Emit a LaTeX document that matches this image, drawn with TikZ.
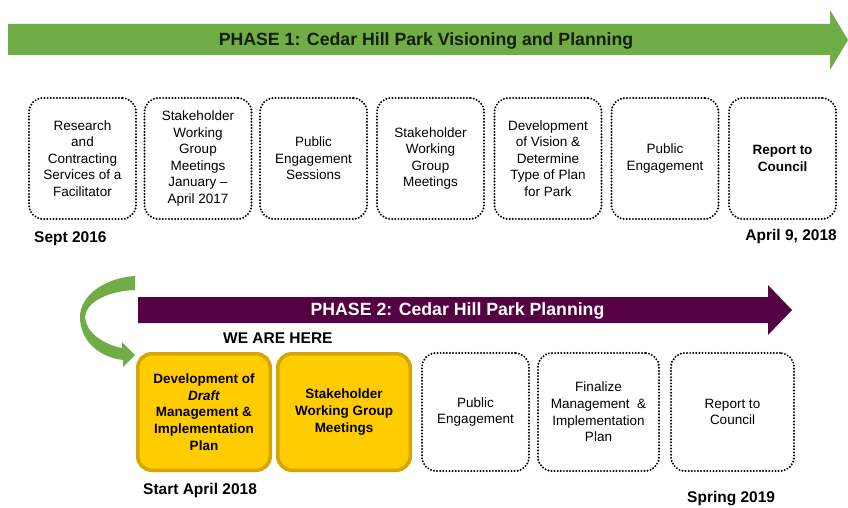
\documentclass[tikz,border=0pt]{standalone}
\usepackage{fontspec}
\setmainfont{Liberation Sans}
\definecolor{pgreen}{RGB}{112,173,71}
\definecolor{ppurple}{RGB}{84,0,66}
\definecolor{gold}{RGB}{255,204,0}
\definecolor{goldedge}{RGB}{214,165,0}
\begin{document}
\begin{tikzpicture}[x=1pt,y=-1pt,
  stage/.style={draw=black, line width=2.2pt, dash pattern=on 0pt off 3.1pt, line cap=round,
    rounded corners=14pt, minimum width=107pt, minimum height=121pt, align=center,
    inner sep=0pt, font=\fontsize{13.5}{16.6}\selectfont},
  ybox/.style={draw=goldedge, line width=3.5pt, fill=gold, rounded corners=14pt,
    minimum width=132.5pt, minimum height=116.5pt, align=center, inner sep=0pt,
    font=\fontsize{13.5}{16.6}\selectfont\bfseries},
  title/.style={font=\fontsize{17.7}{20}\selectfont\bfseries, inner sep=0pt},
  datelbl/.style={font=\fontsize{15.5}{18}\selectfont\bfseries, inner sep=0pt}]
\useasboundingbox (0,0) rectangle (848,508);
% Phase 1 arrow
\fill[pgreen] (8,24) -- (830,24) -- (830,10) -- (848,40) -- (830,70) -- (830,55) -- (8,55) -- cycle;
\node[title, text={rgb,255:red,20;green,30;blue,10}] (t1) at (426,41) {PHASE 1: Cedar Hill Park Visioning and Planning};
% Phase 1 boxes
\node[stage] (a1) at (82.5,158.5) {Research\\and\\Contracting\\Services of a\\Facilitator};
\node[stage] (a2) at (198,158.5) {Stakeholder\\Working\\Group\\Meetings\\January –\\April 2017};
\node[stage] (a3) at (313.5,158.5) {Public\\Engagement\\Sessions};
\node[stage] (a4) at (430.5,158.5) {Stakeholder\\Working\\Group\\Meetings};
\node[stage] (a5) at (548,158.5) {Development\\of Vision \&\\Determine\\Type of Plan\\for Park};
\node[stage] (a6) at (665,158.5) {Public\\Engagement};
\node[stage] (a7) at (782.5,158.5) {\bfseries Report to\\\bfseries Council};
\node[datelbl, anchor=west] (d1) at (34,239) {Sept 2016};
\node[datelbl, anchor=east] (d2) at (837,236) {April 9, 2018};
% curved green arrow
\fill[pgreen] (135,276) -- (135,290) .. controls (108,291) and (86,302) .. (85,317)
  .. controls (86,332) and (102,344) .. (122,348) -- (122,342) -- (135,355) -- (123,367)
  -- (123,360) .. controls (98,357) and (80,340) .. (80,317)
  .. controls (80,296) and (104,278) .. (135,276) -- cycle;
% Phase 2 arrow
\fill[ppurple] (138,297) -- (768,297) -- (768,285) -- (792,310) -- (768,335) -- (768,323) -- (138,323) -- cycle;
\node[title, text=white] (t2) at (457.5,310.5) {PHASE 2: Cedar Hill Park Planning};
\node[datelbl, anchor=west] (here) at (223,338.5) {WE ARE HERE};
% Phase 2 boxes
\node[ybox] (b1) at (204,412) {Development of\\\textit{Draft}\\Management \&\\Implementation\\Plan};
\node[ybox] (b2) at (344,412) {Stakeholder\\Working Group\\Meetings};
\node[stage, minimum height=118pt] (b3) at (475.5,412) {Public\\Engagement};
\node[stage, minimum height=118pt, minimum width=121pt] (b4) at (598.5,412) {Finalize\\Management~ \&\\Implementation\\Plan};
\node[stage, minimum height=118pt, minimum width=123pt] (b5) at (732.5,412) {Report to\\Council};
\node[datelbl, anchor=west] (d3) at (143,490.5) {Start April 2018};
\node[datelbl, anchor=west] (d4) at (687,498.5) {Spring 2019};
\end{tikzpicture}
\end{document}
